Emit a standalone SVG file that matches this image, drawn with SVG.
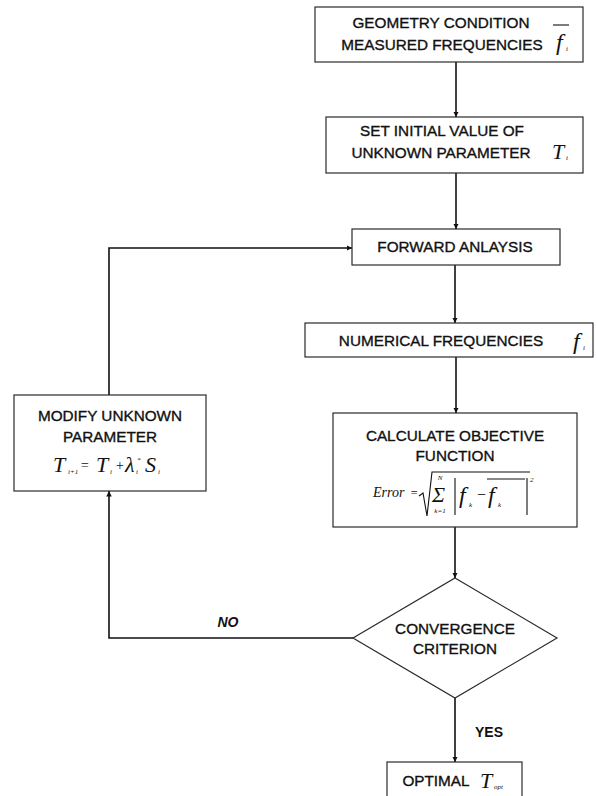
<svg xmlns="http://www.w3.org/2000/svg" width="597" height="796" viewBox="0 0 597 796">
  <style>
    .box { fill: #ffffff; stroke: #2a2a2a; stroke-width: 1.2; }
    .wire { fill: none; stroke: #111111; stroke-width: 1.6; }
    .lbl { font-family: "Liberation Sans", Arial, sans-serif; font-size: 15.3px; fill: #111111; stroke: #111111; stroke-width: 0.35; text-anchor: middle; }
    .tag { font-family: "Liberation Sans", Arial, sans-serif; font-size: 14px; font-weight: bold; fill: #111111; text-anchor: middle; }
    .math { font-family: "Liberation Serif", "Times New Roman", serif; font-style: italic; fill: #111111; }
    .sub { font-family: "Liberation Serif", "Times New Roman", serif; font-style: italic; font-size: 7px; fill: #111111; }
    .rule { fill: none; stroke: #111111; stroke-width: 1.1; }
  </style>
  <defs>
    <marker id="arrow" viewBox="0 0 10 10" refX="10" refY="5" markerWidth="5.5" markerHeight="5.5" orient="auto" markerUnits="userSpaceOnUse">
      <path d="M0,0 L10,5 L0,10 Z" fill="#111111"/>
    </marker>
  </defs>
  <rect width="597" height="796" fill="#ffffff"/>

  <g id="connectors">
    <path class="wire" d="M456,62 V117" marker-end="url(#arrow)"/>
    <path class="wire" d="M456,173 V229" marker-end="url(#arrow)"/>
    <path class="wire" d="M455,265 V323" marker-end="url(#arrow)"/>
    <path class="wire" d="M456,357 V413" marker-end="url(#arrow)"/>
    <path class="wire" d="M455,527 V578" marker-end="url(#arrow)"/>
    <path class="wire" d="M455,698 V762" marker-end="url(#arrow)"/>
    <path class="wire" d="M353,638 H109 V491" marker-end="url(#arrow)"/>
    <path class="wire" d="M109,395 V248 H352" marker-end="url(#arrow)"/>
    <text class="tag" x="228" y="627" font-style="italic">NO</text>
    <text class="tag" x="489" y="737">YES</text>
  </g>

  <g id="geometry">
    <rect class="box" x="315" y="7" width="268" height="55"/>
    <text class="lbl" x="441" y="28">GEOMETRY CONDITION</text>
    <text class="lbl" x="442" y="50">MEASURED FREQUENCIES</text>
    <text class="math" x="556" y="50" font-size="24">f</text>
    <line class="rule" x1="553" y1="25" x2="569" y2="25"/>
    <text class="sub" x="566" y="51">i</text>
  </g>

  <g id="initial">
    <rect class="box" x="326" y="117" width="257" height="56"/>
    <text class="lbl" x="442" y="136">SET INITIAL VALUE OF</text>
    <text class="lbl" x="441" y="158">UNKNOWN PARAMETER</text>
    <text class="math" x="552" y="159" font-size="22">T</text>
    <text class="sub" x="566" y="160">i</text>
  </g>

  <g id="forward">
    <rect class="box" x="352" y="229" width="208" height="36"/>
    <text class="lbl" x="455" y="252">FORWARD ANLAYSIS</text>
  </g>

  <g id="numerical">
    <rect class="box" x="305" y="323" width="288" height="34"/>
    <text class="lbl" x="441" y="346">NUMERICAL FREQUENCIES</text>
    <text class="math" x="573" y="349" font-size="24">f</text>
    <text class="sub" x="583" y="350">i</text>
  </g>

  <g id="objective">
    <rect class="box" x="333" y="413" width="244" height="114"/>
    <text class="lbl" x="455" y="441">CALCULATE OBJECTIVE</text>
    <text class="lbl" x="455" y="461">FUNCTION</text>
    <text class="math" x="373" y="497" font-size="14">Error</text>
    <text class="math" x="410" y="497" font-size="12">=</text>
    <path class="rule" d="M419,496 L423,493 L427,516 L432,472 H530"/>
    <text class="math" x="432" y="502" font-size="22" font-style="normal">Σ</text>
    <text class="sub" x="440" y="480" text-anchor="middle">N</text>
    <text class="sub" x="440" y="513" text-anchor="middle">k=1</text>
    <line class="rule" x1="455" y1="478" x2="455" y2="515"/>
    <text class="math" x="459" y="503" font-size="24">f</text>
    <text class="sub" x="469" y="507" font-size="9">k</text>
    <text class="math" x="476" y="500" font-size="16" font-style="normal">−</text>
    <text class="math" x="488" y="503" font-size="24">f</text>
    <text class="sub" x="498" y="507" font-size="9">k</text>
    <line class="rule" x1="487" y1="479" x2="525" y2="479"/>
    <line class="rule" x1="527" y1="478" x2="527" y2="515"/>
    <text class="sub" x="530" y="482">2</text>
  </g>

  <g id="modify">
    <rect class="box" x="14" y="395" width="192" height="96"/>
    <text class="lbl" x="110" y="421">MODIFY UNKNOWN</text>
    <text class="lbl" x="110" y="442">PARAMETER</text>
    <text class="math" x="53" y="472" font-size="22">T</text>
    <text class="sub" x="68" y="474">i+1</text>
    <text class="math" x="80" y="470" font-size="14" font-style="normal">=</text>
    <text class="math" x="96" y="472" font-size="22">T</text>
    <text class="sub" x="110" y="474">i</text>
    <text class="math" x="115" y="470" font-size="14" font-style="normal">+</text>
    <text class="math" x="125" y="472" font-size="22">λ</text>
    <text class="sub" x="137" y="462">*</text>
    <text class="sub" x="136" y="474">i</text>
    <text class="math" x="145" y="472" font-size="22">S</text>
    <text class="sub" x="158" y="474">i</text>
  </g>

  <g id="convergence">
    <polygon class="box" points="455,578 557,638 455,698 353,638"/>
    <text class="lbl" x="455" y="634">CONVERGENCE</text>
    <text class="lbl" x="455" y="654">CRITERION</text>
  </g>

  <g id="optimal">
    <rect class="box" x="387" y="762" width="135" height="40"/>
    <text class="lbl" x="436" y="786">OPTIMAL</text>
    <text class="math" x="480" y="788" font-size="22">T</text>
    <text class="sub" x="494" y="789">opt</text>
  </g>
</svg>
